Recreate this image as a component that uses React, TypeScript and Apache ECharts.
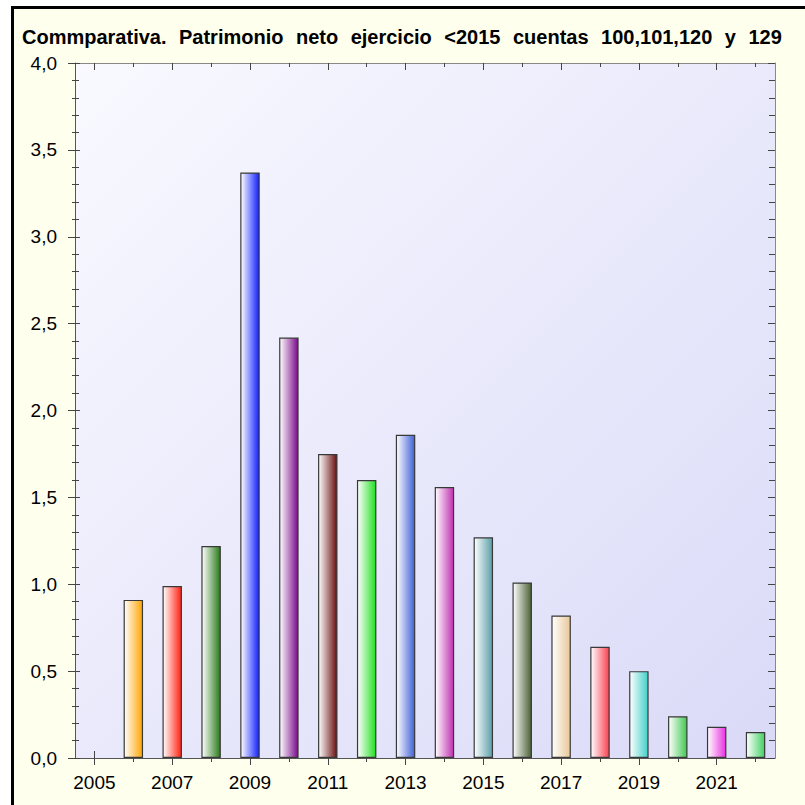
import React, { useEffect, useRef } from "react";
import * as echarts from "echarts";

const TITLE = "Commparativa. Patrimonio neto ejercicio <2015 cuentas 100,101,120 y 129";
const years = ["2005", "2006", "2007", "2008", "2009", "2010", "2011", "2012", "2013", "2014", "2015", "2016", "2017", "2018", "2019", "2020", "2021", "2022"];
const values: (number | null)[] = [null, 0.91, 0.99, 1.22, 3.37, 2.42, 1.75, 1.6, 1.86, 1.56, 1.27, 1.01, 0.82, 0.64, 0.5, 0.24, 0.18, 0.15];
const barColors = ["#ffffff", "#FFA500", "#FF2010", "#2A7A1A", "#1020FF", "#7A0A8A", "#6A0E0E", "#22E022", "#4060D8", "#C030B0", "#5A9EA8", "#4A6034", "#E8C898", "#F84050", "#40D0C8", "#40C850", "#E830E0", "#40D060"];
const yMin = 0;
const yMax = 4;
const yInterval = 0.5;

const FONT = "'Liberation Sans', Arial, sans-serif";

export default function App() {
  const ref = useRef<HTMLDivElement>(null);
  useEffect(() => {
    if (!ref.current) return;
    const chart = echarts.init(ref.current, null, { renderer: "svg" });
    const axisLineDark = { show: true, lineStyle: { color: "#555", width: 1 } };
    const axisLineLight = { show: true, lineStyle: { color: "#888", width: 1 } };
    const noLine = { show: false };
    const tickStyle = { color: "#444", width: 1 };
    const baseX = (extra: any) => ({
      type: "category",
      data: years,
      boundaryGap: true,
      splitLine: { show: false },
      axisLabel: { show: false },
      ...extra,
    });
    const data = values.map((v, i) => ({
      value: v,
      itemStyle: {
        color: new echarts.graphic.LinearGradient(0, 0, 1, 0, [
          { offset: 0, color: "#ffffff" },
          { offset: 1, color: barColors[i] },
        ]),
        borderColor: "#383838",
        borderWidth: 1.2,
      },
    }));
    const titleRich = TITLE.split(" ")
      .map((w) => `{w|${w}}`)
      .join("{s| }");
    chart.setOption({
      animation: false,
      backgroundColor: "#ffffff",
      graphic: [
        {
          type: "rect",
          z: -10,
          shape: { x: 12.5, y: 7.5, width: 900, height: 900 },
          style: { fill: "#FFFFEE", stroke: "#000", lineWidth: 3 },
        },
        {
          type: "text",
          z: 10,
          style: {
            x: 22,
            y: 37,
            text: titleRich,
            fill: "#000",
            verticalAlign: "middle",
            align: "left",
            rich: {
              w: { font: `bold 20px ${FONT}`, fill: "#000", lineHeight: 24 },
              s: { font: `bold 20px ${FONT}`, width: 12.5, lineHeight: 24 },
            },
          },
        },
      ],
      grid: {
        left: 75,
        right: 30,
        top: 63,
        bottom: 47,
        show: true,
        borderWidth: 0,
        backgroundColor: new echarts.graphic.LinearGradient(0, 0, 1, 1, [
          { offset: 0, color: "#F9F9FF" },
          { offset: 1, color: "#DADAF8" },
        ]),
      },
      xAxis: [
        baseX({
          position: "bottom",
          axisLine: axisLineDark,
          axisLabel: {
            show: true,
            interval: 1,
            color: "#000",
            fontSize: 19,
            fontFamily: FONT,
            margin: 15,
          },
          axisTick: { show: true, alignWithLabel: true, interval: 0, length: 4, lineStyle: tickStyle },
        }),
        baseX({
          position: "bottom",
          offset: 0,
          axisLine: noLine,
          axisTick: { show: true, alignWithLabel: true, interval: 1, length: 7, lineStyle: tickStyle },
        }),
        baseX({
          position: "bottom",
          offset: 0,
          axisLine: noLine,
          axisTick: { show: true, inside: true, alignWithLabel: true, interval: 1, length: 7, lineStyle: tickStyle },
        }),
        baseX({
          position: "top",
          axisLine: axisLineLight,
          axisTick: { show: true, inside: true, alignWithLabel: true, interval: 0, length: 4, lineStyle: tickStyle },
        }),
        baseX({
          position: "top",
          offset: 0,
          axisLine: noLine,
          axisTick: { show: true, inside: true, alignWithLabel: true, interval: 1, length: 7, lineStyle: tickStyle },
        }),
      ],
      yAxis: [
        {
          type: "value",
          position: "left",
          min: yMin,
          max: yMax,
          interval: yInterval,
          splitLine: { show: false },
          axisLine: axisLineDark,
          axisLabel: {
            color: "#000",
            fontSize: 19,
            fontFamily: FONT,
            margin: 18,
            formatter: (v: number) => v.toFixed(1).replace(".", ","),
          },
          axisTick: { show: true, inside: true, length: 5, lineStyle: tickStyle },
          minorTick: { show: true, splitNumber: 5, length: 4, lineStyle: tickStyle },
        },
        {
          type: "value",
          position: "left",
          offset: 0,
          min: yMin,
          max: yMax,
          interval: yInterval,
          splitLine: { show: false },
          axisLine: noLine,
          axisLabel: { show: false },
          axisTick: { show: true, inside: false, length: 7, lineStyle: tickStyle },
          minorTick: { show: true, splitNumber: 5, length: 3, lineStyle: tickStyle },
        },
        {
          type: "value",
          position: "right",
          min: yMin,
          max: yMax,
          interval: yInterval,
          splitLine: { show: false },
          axisLine: axisLineLight,
          axisLabel: { show: false },
          axisTick: { show: true, inside: true, length: 7, lineStyle: tickStyle },
          minorTick: { show: true, splitNumber: 5, length: 6, lineStyle: tickStyle },
        },
      ],
      series: [
        {
          type: "bar",
          xAxisIndex: 0,
          yAxisIndex: 0,
          barWidth: "50%",
          data,
        },
      ],
    });
    return () => chart.dispose();
  }, []);
  return (
    <div
      ref={ref}
      style={{ position: "absolute", left: 0, top: 0, width: 805, height: 805 }}
    />
  );
}
